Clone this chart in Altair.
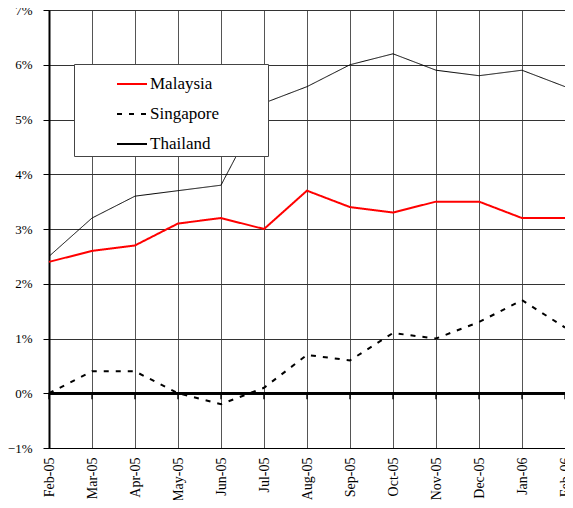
import altair as alt
import pandas as pd

months = ["Feb-05", "Mar-05", "Apr-05", "May-05", "Jun-05", "Jul-05", "Aug-05",
          "Sep-05", "Oct-05", "Nov-05", "Dec-05", "Jan-06", "Feb-06"]
countries = ["Malaysia", "Singapore", "Thailand"]
malaysia = [2.4, 2.6, 2.7, 3.1, 3.2, 3.0, 3.7, 3.4, 3.3, 3.5, 3.5, 3.2, 3.2]
singapore = [0.0, 0.4, 0.4, 0.0, -0.2, 0.1, 0.7, 0.6, 1.1, 1.0, 1.3, 1.7, 1.2]
thailand = [2.5, 3.2, 3.6, 3.7, 3.8, 5.3, 5.6, 6.0, 6.2, 5.9, 5.8, 5.9, 5.6]
y_ticks = [-1, 0, 1, 2, 3, 4, 5, 6, 7]

colors = ["#ff0000", "#000000", "#000000"]
dashes = [[1, 0], [5, 7], [1, 0]]
widths = [2, 2, 1]

rows = []
for c, w, vals in zip(countries, widths, [malaysia, singapore, thailand]):
    for m, v in zip(months, vals):
        rows.append({"month": m, "country": c, "value": v / 100, "sw": w})
df = pd.DataFrame(rows)
mdf = pd.DataFrame({"month": months})

FONT = "Liberation Serif, Times New Roman, DejaVu Serif, serif"

xenc = alt.X("month:O", sort=months,
             scale=alt.Scale(type="point", padding=0),
             axis=alt.Axis(title=None, labelAngle=270, labelFont=FONT,
                           labelFontSize=14, labelColor="#000", labelPadding=9,
                           ticks=False, grid=True, gridColor="#555",
                           domainColor="#000", labelAlign="right",
                           labelBaseline="middle"))
yscale = alt.Scale(domain=[-0.01, 0.07], nice=False)
yenc = alt.Y("value:Q", scale=yscale,
             axis=alt.Axis(title=None, values=[t / 100 for t in y_ticks],
                           format=".0%", labelFont=FONT, labelFontSize=13,
                           labelColor="#000", labelPadding=11, tickSize=6,
                           tickColor="#000", domainWidth=2, domainColor="#000",
                           grid=True, gridColor="#333"))

leg = alt.Legend(orient="none", legendX=25, legendY=54, title=" ",
                 titleOrient="right", titleFontSize=1, titlePadding=45,
                 symbolType="stroke", symbolSize=900, symbolStrokeWidth=2,
                 labelFont=FONT, labelFontSize=17, labelColor="#000",
                 fillColor="white", strokeColor="#444", padding=4,
                 rowPadding=6, symbolOffset=38, labelOffset=2)

lines = alt.Chart(df).mark_line().encode(
    x=xenc,
    y=yenc,
    color=alt.Color("country:N", scale=alt.Scale(domain=countries, range=colors), legend=leg),
    strokeDash=alt.StrokeDash("country:N", scale=alt.Scale(domain=countries, range=dashes), legend=leg),
    strokeWidth=alt.StrokeWidth("sw:Q", scale=None, legend=None),
)

zero = alt.Chart(mdf).mark_rule(color="#000", strokeWidth=2).encode(
    y=alt.datum(0, scale=yscale)
)
ticks = alt.Chart(mdf).mark_tick(color="#000", orient="vertical", size=6,
                                  thickness=2, yOffset=3).encode(
    x=alt.X("month:O", sort=months),
    y=alt.datum(0),
)

chart = alt.layer(zero, ticks, lines).properties(
    width=516, height=438,
    autosize=alt.AutoSizeParams(type="none"),
    padding={"left": 41, "top": 2, "right": 0, "bottom": 52},
).configure_view(stroke="#000", strokeWidth=1)

chart.save("out.html", embed_options={"renderer": "svg", "actions": False})
